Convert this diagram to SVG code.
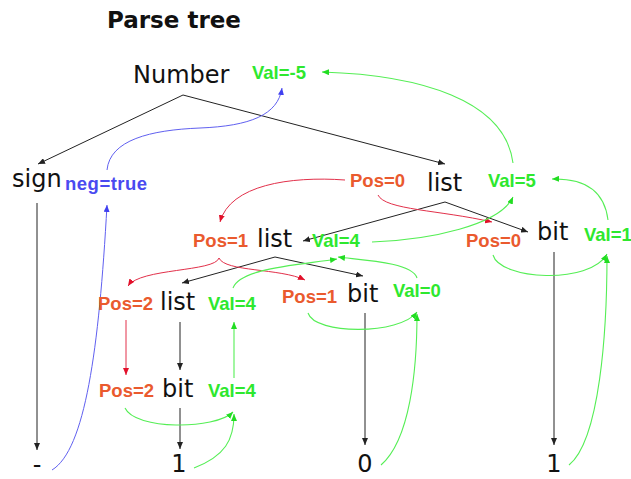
<svg xmlns="http://www.w3.org/2000/svg" width="631" height="479" viewBox="0 0 631 479">
<style>
.t{font-family:"DejaVu Sans","Liberation Sans",sans-serif;font-size:24px;fill:#111}
.title{font-family:"DejaVu Sans","Liberation Sans",sans-serif;font-size:23px;font-weight:bold;fill:#111}
.lbl{font-family:"Liberation Sans","DejaVu Sans",sans-serif;font-size:18.5px;font-weight:bold}
.g{fill:#2ee82e}
.r{fill:#ea5a2e}
.b{fill:#4a4af0}
.cb{fill:none;stroke:#222;stroke-width:1}
.cg{fill:none;stroke:#55ee55;stroke-width:1.1}
.cr{fill:none;stroke:#e2304a;stroke-width:1}
.cu{fill:none;stroke:#6060f0;stroke-width:1}
</style>
<defs>
<marker id="ab" markerUnits="userSpaceOnUse" markerWidth="8" markerHeight="6" refX="7" refY="3" orient="auto"><path d="M0,0 L7,3 L0,6 z" fill="#222"/></marker>
<marker id="ag" markerUnits="userSpaceOnUse" markerWidth="8" markerHeight="6" refX="7" refY="3" orient="auto"><path d="M0,0 L7,3 L0,6 z" fill="#22dd22"/></marker>
<marker id="ar" markerUnits="userSpaceOnUse" markerWidth="8" markerHeight="6" refX="7" refY="3" orient="auto"><path d="M0,0 L7,3 L0,6 z" fill="#e2102a"/></marker>
<marker id="au" markerUnits="userSpaceOnUse" markerWidth="8" markerHeight="6" refX="7" refY="3" orient="auto"><path d="M0,0 L7,3 L0,6 z" fill="#4040f0"/></marker>
</defs>
<text class="title" x="107" y="28">Parse tree</text>
<g id="connectors">
<path class="cb" marker-end="url(#ab)" d="M183 95 L38 164"/>
<path class="cb" marker-end="url(#ab)" d="M183 95 L445 164"/>
<path class="cb" marker-end="url(#ab)" d="M445 202 L303 241"/>
<path class="cb" marker-end="url(#ab)" d="M445 202 L528 232"/>
<path class="cb" marker-end="url(#ab)" d="M275 257 L182 283"/>
<path class="cb" marker-end="url(#ab)" d="M275 257 L363 276"/>
<path class="cb" marker-end="url(#ab)" d="M37 203 L37 450"/>
<path class="cb" marker-end="url(#ab)" d="M180 322 L180 370"/>
<path class="cb" marker-end="url(#ab)" d="M180 408 L180 449"/>
<path class="cb" marker-end="url(#ab)" d="M365 313 L365 445"/>
<path class="cb" marker-end="url(#ab)" d="M554 252 L554 445"/>
<path class="cr" marker-end="url(#ar)" d="M345 180 C290 176 230 185 220 222"/>
<path class="cr" marker-end="url(#ar)" d="M378 195 C385 210 440 210 492 222"/>
<path class="cr" marker-end="url(#ar)" d="M219 258 C215 272 140 268 128 286"/>
<path class="cr" marker-end="url(#ar)" d="M219 258 C225 272 280 268 305 280"/>
<path class="cr" marker-end="url(#ar)" d="M126 320 L126 375"/>
<path class="cg" marker-end="url(#ag)" d="M513 163 C505 100 420 75 322 72"/>
<path class="cg" marker-end="url(#ag)" d="M608 220 C605 195 590 178 552 179"/>
<path class="cg" marker-end="url(#ag)" d="M372 242 C430 240 500 225 513 197"/>
<path class="cg" marker-end="url(#ag)" d="M233 288 C240 268 300 265 337 259"/>
<path class="cg" marker-end="url(#ag)" d="M417 278 C412 262 360 260 338 257"/>
<path class="cg" marker-end="url(#ag)" d="M493 255 C500 280 590 285 607 254"/>
<path class="cg" marker-end="url(#ag)" d="M569 465 C600 440 607 330 607 256"/>
<path class="cg" marker-end="url(#ag)" d="M308 313 C315 335 400 335 417 312"/>
<path class="cg" marker-end="url(#ag)" d="M381 465 C410 440 417 370 417 314"/>
<path class="cg" marker-end="url(#ag)" d="M125 408 C135 430 215 430 233 412"/>
<path class="cg" marker-end="url(#ag)" d="M194 468 C225 456 234 440 234 414"/>
<path class="cg" marker-end="url(#ag)" d="M234 378 L234 322"/>
<path class="cu" marker-end="url(#au)" d="M52 470 C85 450 99 350 107 205"/>
<path class="cu" marker-end="url(#au)" d="M107 170 C110 140 150 130 200 128 C250 126 278 115 282 88"/>
</g>
<g id="number"><text class="t" x="133" y="83">Number</text><text class="lbl g" x="252" y="79">Val=-5</text></g>
<g id="sign"><text class="t" x="12" y="187">sign</text><text class="lbl b" x="65" y="190" style="letter-spacing:0.5px">neg=true</text></g>
<g id="list0"><text class="lbl r" x="350" y="187">Pos=0</text><text class="t" x="427" y="191">list</text><text class="lbl g" x="488" y="187">Val=5</text></g>
<g id="list1"><text class="lbl r" x="193" y="247">Pos=1</text><text class="t" x="257" y="247">list</text><text class="lbl g" x="312" y="247">Val=4</text></g>
<g id="bit0"><text class="lbl r" x="466" y="247">Pos=0</text><text class="t" x="537" y="240">bit</text><text class="lbl g" x="584" y="241">Val=1</text></g>
<g id="list2"><text class="lbl r" x="98" y="310">Pos=2</text><text class="t" x="160" y="310">list</text><text class="lbl g" x="208" y="310">Val=4</text></g>
<g id="bit1"><text class="lbl r" x="282" y="303">Pos=1</text><text class="t" x="347" y="302">bit</text><text class="lbl g" x="393" y="297">Val=0</text></g>
<g id="bit2"><text class="lbl r" x="99" y="397">Pos=2</text><text class="t" x="162" y="397">bit</text><text class="lbl g" x="208" y="397">Val=4</text></g>
<g id="minus"><text class="t" x="37" y="473" text-anchor="middle">-</text></g>
<g id="one1"><text class="t" x="179" y="472" text-anchor="middle">1</text></g>
<g id="zero"><text class="t" x="365" y="472" text-anchor="middle">0</text></g>
<g id="one2"><text class="t" x="554" y="472" text-anchor="middle">1</text></g>
</svg>
